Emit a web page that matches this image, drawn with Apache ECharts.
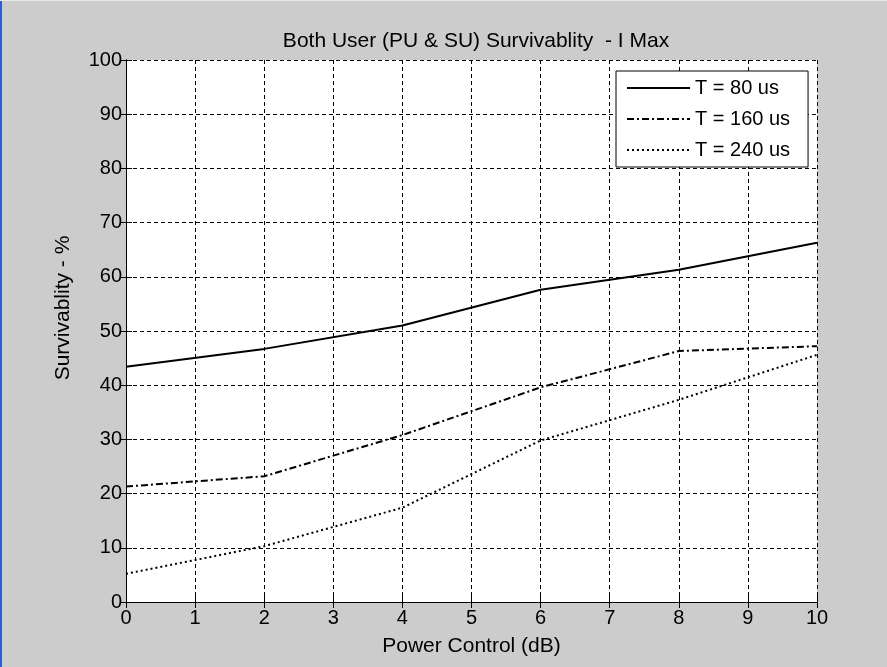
<!DOCTYPE html>
<html>
<head>
<meta charset="utf-8">
<script src="https://cdn.jsdelivr.net/npm/echarts@6/dist/echarts.min.js"></script>
<style>
  html, body { margin: 0; padding: 0; background: #cccccc; }
  #chart { width: 887px; height: 667px; }
</style>
</head>
<body>
<div id="chart"></div>
<script>
// Power control (dB) sample points
const powerControl = [0, 2, 4, 6, 8, 10];
// Survivability (%) for each T
const t80 = [43.4, 46.7, 51.0, 57.6, 61.3, 66.3];
const t160 = [21.3, 23.2, 30.8, 39.6, 46.3, 47.2];
const t240 = [5.2, 10.3, 17.4, 29.8, 37.3, 45.6];

const seriesNames = ['T = 80 us', 'T = 160 us', 'T = 240 us'];
const xTicks = [0, 10, 1];
const yTicks = [0, 100, 10];

const font = 'Liberation Sans, Arial, sans-serif';

function pairs(ys) {
  return powerControl.map((x, i) => [x, ys[i]]);
}

const gridLine = { show: true, lineStyle: { color: '#000', type: [4, 3], width: 1 } };

const option = {
  backgroundColor: '#cccccc',
  animation: false,
  textStyle: { fontFamily: font },
  title: {
    text: 'Both User (PU & SU) Survivablity  - I Max',
    left: 471,
    textAlign: 'center',
    top: 26,
    textStyle: { fontSize: 21, fontWeight: 'normal', color: '#000', fontFamily: font }
  },
  grid: { left: 126, top: 60, right: 70, bottom: 65, show: true, backgroundColor: '#fff', borderWidth: 0 },
  legend: {
    orient: 'vertical',
    left: 616,
    top: 71,
    itemWidth: 63,
    itemHeight: 12,
    itemGap: 11,
    padding: [7, 18, 7, 10],
    backgroundColor: '#fff',
    borderColor: '#000',
    borderWidth: 1,
    borderRadius: 0,
    itemStyle: { opacity: 0 },
    textStyle: { fontSize: 20, color: '#000', fontFamily: font, padding: [0, 0, 0, 0] },
    data: seriesNames
  },
  xAxis: [
    {
      type: 'value', min: xTicks[0], max: xTicks[1], interval: xTicks[2],
      name: 'Power Control (dB)', nameLocation: 'middle', nameGap: 34,
      nameTextStyle: { fontSize: 21, color: '#000' },
      axisLine: { show: true, lineStyle: { color: '#000', width: 1 } },
      axisTick: { inside: true, length: 6, lineStyle: { color: '#000' } },
      axisLabel: { fontSize: 20, color: '#000', margin: 6 },
      splitLine: gridLine
    },
    {
      type: 'value', position: 'top', min: xTicks[0], max: xTicks[1], interval: xTicks[2],
      axisLine: { show: true, lineStyle: { color: '#000', width: 1 } },
      axisTick: { inside: true, length: 6, lineStyle: { color: '#000' } },
      axisLabel: { show: false },
      splitLine: { show: false }
    }
  ],
  yAxis: [
    {
      type: 'value', min: yTicks[0], max: yTicks[1], interval: yTicks[2],
      name: 'Survivablity - %', nameLocation: 'middle', nameGap: 52, nameRotate: 90,
      nameTextStyle: { fontSize: 21, color: '#000', padding: [0, 0, 0, 46] },
      axisLine: { show: true, lineStyle: { color: '#000', width: 1 } },
      axisTick: { show: true, inside: true, length: 6, lineStyle: { color: '#000' } },
      axisLabel: { fontSize: 20, color: '#000', margin: 4 },
      splitLine: gridLine
    },
    {
      type: 'value', position: 'right', min: yTicks[0], max: yTicks[1], interval: yTicks[2],
      axisLine: { show: true, lineStyle: { color: '#000', width: 1 } },
      axisTick: { show: true, inside: true, length: 6, lineStyle: { color: '#000' } },
      axisLabel: { show: false },
      splitLine: { show: false }
    }
  ],
  series: [
    {
      name: seriesNames[0], type: 'line', data: pairs(t80), symbol: 'none',
      color: '#000', lineStyle: { color: '#000', width: 2, type: 'solid' }
    },
    {
      name: seriesNames[1], type: 'line', data: pairs(t160), symbol: 'none',
      color: '#000', lineStyle: { color: '#000', width: 2, type: [7, 3, 2, 3] }
    },
    {
      name: seriesNames[2], type: 'line', data: pairs(t240), symbol: 'none',
      color: '#000', lineStyle: { color: '#000', width: 2, type: [2, 3] }
    }
  ],
  graphic: [
    { type: 'rect', left: 0, top: 0, shape: { width: 2, height: 667 }, style: { fill: '#2a5fd8' }, silent: true },
    { type: 'rect', left: 0, top: 0, shape: { width: 887, height: 1 }, style: { fill: '#e8e8e8' }, silent: true }
  ]
};

const chart = echarts.init(document.getElementById('chart'));
chart.setOption(option);
</script>
</body>
</html>
